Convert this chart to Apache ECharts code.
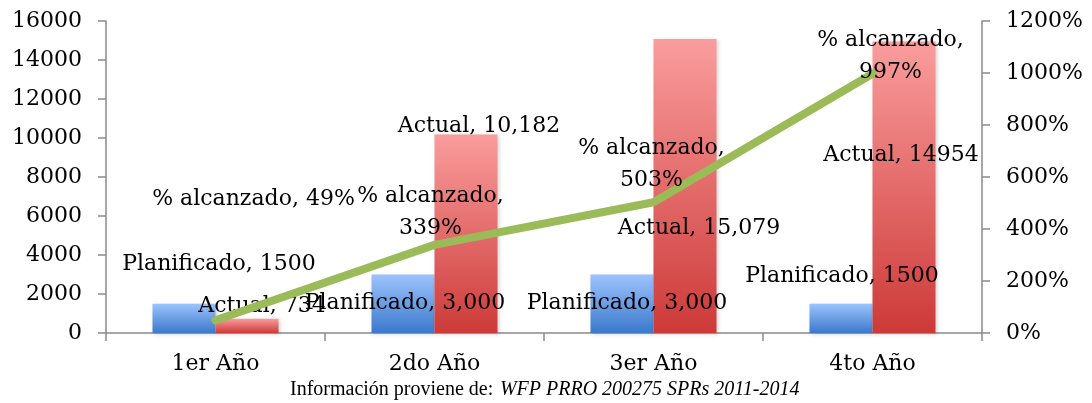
<!DOCTYPE html>
<html>
<head>
<meta charset="utf-8">
<title>Planificado vs Actual</title>
<script src="https://cdn.jsdelivr.net/npm/echarts@6/dist/echarts.min.js"></script>
<style>
  html, body { margin: 0; padding: 0; background: #fff; }
  #chartContainer { width: 1092px; height: 403px; }
</style>
</head>
<body>
<div id="chartContainer"></div>
<script>
var categories = ['1er Año', '2do Año', '3er Año', '4to Año'];
var planificado = [1500, 3000, 3000, 1500];
var actual = [734, 10182, 15079, 14954];
var alcanzado = [49, 339, 503, 997];
// textos tal como aparecen en las etiquetas
var planificadoText = ['1500', '3,000', '3,000', '1500'];
var actualText = ['734', '10,182', '15,079', '14954'];
// desplazamiento de cada etiqueta
var planOffsets = [[35, -54], [2, 0], [5, 0], [1, -42]];
var actualOffsets = [[15, -20], [13, -107], [14, 42], [-3, -32]];
var pctOffsets = [[38, -121], [-4, -33], [-2, -38], [18, -17]];

(function(window, undefined) {
  var FONT = 'DejaVu Serif';

  fnInitChart();

  function fnLabel(offset, text) {
    return {
      show: true,
      position: 'inside',
      offset: offset,
      align: 'center',
      verticalAlign: 'middle',
      color: '#000',
      fontFamily: FONT,
      fontSize: 22,
      lineHeight: 32,
      formatter: text
    };
  }

  function fnGradient(top, bottom) {
    return new echarts.graphic.LinearGradient(0, 0, 0, 1, [
      { offset: 0, color: top },
      { offset: 1, color: bottom }
    ]);
  }

  function fnInitChart() {
    var chart = echarts.init(document.getElementById('chartContainer'), null, {
      renderer: 'canvas'
    });

    var planData = planificado.map(function(v, i) {
      return { value: v, label: fnLabel(planOffsets[i], 'Planificado, ' + planificadoText[i]) };
    });
    var actualData = actual.map(function(v, i) {
      return { value: v, label: fnLabel(actualOffsets[i], 'Actual, ' + actualText[i]) };
    });
    var pctData = alcanzado.map(function(v, i) {
      var txt = i === 0 ? '% alcanzado, ' + v + '%' : '% alcanzado,\n' + v + '%';
      return { value: v, label: fnLabel(pctOffsets[i], txt) };
    });

    var axisLine = { show: true, lineStyle: { color: '#8a8a8a', width: 1.5 } };
    var axisTick = { show: true, length: 8, lineStyle: { color: '#8a8a8a', width: 1.5 } };

    chart.setOption({
      animation: false,
      textStyle: { fontFamily: FONT },
      grid: { left: 106, right: 110, top: 21, bottom: 70, containLabel: false },
      xAxis: {
        type: 'category',
        data: categories,
        axisLine: axisLine,
        axisTick: axisTick,
        axisLabel: { color: '#000', fontFamily: FONT, fontSize: 22, margin: 20 },
        splitLine: { show: false }
      },
      yAxis: [
        {
          type: 'value',
          min: 0,
          max: 16000,
          interval: 2000,
          axisLine: axisLine,
          axisTick: axisTick,
          axisLabel: {
            color: '#000',
            fontFamily: FONT,
            fontSize: 22,
            margin: 24,
            formatter: function(v) { return String(v); }
          },
          splitLine: { show: false }
        },
        {
          type: 'value',
          min: 0,
          max: 1200,
          interval: 200,
          position: 'right',
          axisLine: axisLine,
          axisTick: axisTick,
          axisLabel: {
            color: '#000',
            fontFamily: FONT,
            fontSize: 22,
            margin: 24,
            formatter: function(v) { return v + '%'; }
          },
          splitLine: { show: false }
        }
      ],
      series: [
        {
          name: 'Planificado',
          type: 'bar',
          barWidth: 63,
          barGap: '0%',
          data: planData,
          itemStyle: {
            color: fnGradient('#9cc3fd', '#3b79cc'),
            shadowColor: 'rgba(0,0,0,0.18)',
            shadowBlur: 4,
            shadowOffsetX: 1,
            shadowOffsetY: 1
          },
          z: 2
        },
        {
          name: 'Actual',
          type: 'bar',
          barWidth: 63,
          barGap: '0%',
          data: actualData,
          itemStyle: {
            color: fnGradient('#fa9d9d', '#cc3a38'),
            shadowColor: 'rgba(0,0,0,0.18)',
            shadowBlur: 4,
            shadowOffsetX: 1,
            shadowOffsetY: 1
          },
          z: 2
        },
        {
          name: '% alcanzado',
          type: 'line',
          yAxisIndex: 1,
          data: pctData,
          symbol: 'circle',
          symbolSize: 1,
          showSymbol: true,
          itemStyle: { color: '#9bbb59' },
          lineStyle: { color: '#9bbb59', width: 8, cap: 'round' },
          z: 3
        }
      ],
      graphic: [
        {
          type: 'text',
          left: 290,
          top: 380,
          style: {
            text: '{a|Información proviene de:}  {b|WFP PRRO 200275 SPRs 2011-2014}',
            rich: {
              a: { fontFamily: 'Liberation Serif', fontSize: 20, fill: '#000' },
              b: { fontFamily: 'Liberation Serif', fontSize: 20, fontStyle: 'italic', fill: '#000' }
            }
          }
        }
      ]
    });
  }
})(window);
</script>
</body>
</html>
